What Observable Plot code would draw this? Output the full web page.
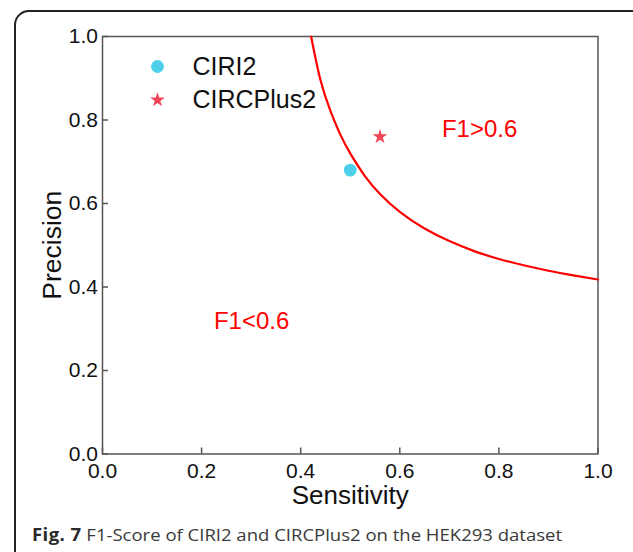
<!DOCTYPE html>
<html><head><meta charset="utf-8">
<script src="https://cdn.jsdelivr.net/npm/d3@7"></script>
<script src="https://cdn.jsdelivr.net/npm/@observablehq/plot@0.6"></script>
<style>
html,body{margin:0;padding:0;background:#fff;width:633px;height:552px;overflow:hidden;}
#wrap{position:relative;width:633px;height:552px;}
#border{position:absolute;left:14px;top:10px;width:700px;height:700px;border:2px solid #222;border-radius:15px;box-sizing:border-box;}
#chart{position:absolute;left:0;top:0;}
#caption{position:absolute;left:31.5px;top:526px;font-family:"Open Sans",sans-serif;font-size:17px;line-height:17px;color:#3a3a3a;white-space:nowrap;transform-origin:left center;}
#caption b{color:#2a2a2a;letter-spacing:0.4px;}
</style></head><body>
<div id="wrap"><div id="border"></div><div id="chart"></div><div id="caption"><b>Fig. 7</b> F1-Score of CIRI2 and CIRCPlus2 on the HEK293 dataset</div></div>
<script>
// Data
const methods = ["CIRI2", "CIRCPlus2"];
const sensitivity = [0.50, 0.56];
const precision = [0.68, 0.76];
const methodSymbols = ["circle", "star"];
const methodColors = ["#4ECFEA", "#F04457"];

// F1 boundary curve
const curveSensitivity = [0.421, 0.44, 0.46, 0.48, 0.50, 0.53, 0.56, 0.60, 0.65, 0.70, 0.75, 0.80, 0.85, 0.90, 0.95, 1.0];
const curvePrecision   = [1.0, 0.895, 0.822, 0.765, 0.720, 0.665, 0.623, 0.580, 0.540, 0.510, 0.486, 0.467, 0.452, 0.439, 0.428, 0.418];

const xTicks = [0, 0.2, 0.4, 0.6, 0.8, 1.0];
const yTicks = [0, 0.2, 0.4, 0.6, 0.8, 1.0];

const regionLabels = ["F1>0.6", "F1<0.6"];
const regionSensitivity = [0.761, 0.301];
const regionPrecision = [0.777, 0.319];

const xLabel = "Sensitivity";
const yLabel = "Precision";

// Tables built from the arrays
const points = methods.map((m, i) => ({method: m, s: sensitivity[i], p: precision[i]}));
const curve = curveSensitivity.map((s, i) => ({s, p: curvePrecision[i]}));
const regions = regionLabels.map((t, i) => ({t, s: regionSensitivity[i], p: regionPrecision[i]}));

const markerR = {circle: 6.4, star: 4.6};
const axisGray = "#555";
const tickFont = 21;

const chart = Plot.plot({
  width: 633, height: 515,
  marginLeft: 102, marginRight: 35.5, marginTop: 36, marginBottom: 61.5,
  style: {fontFamily: '"Liberation Sans", Arial, sans-serif', fontSize: "21px", color: "#111", background: "transparent", overflow: "visible"},
  x: {domain: [0, 1]},
  y: {domain: [0, 1]},
  symbol: {domain: methods, range: methodSymbols},
  color: {domain: methods, range: methodColors},
  marks: [
    Plot.frame({stroke: axisGray, strokeWidth: 1.5}),
    Plot.axisX({ticks: xTicks, tickFormat: d => d.toFixed(1), tickSize: -6, tickPadding: 15.1, stroke: axisGray, strokeWidth: 1.5, fill: "#111", fontSize: tickFont, label: null}),
    Plot.axisY({ticks: yTicks, tickFormat: d => d.toFixed(1), tickSize: -6, tickPadding: 10.5, stroke: axisGray, strokeWidth: 1.5, fill: "#111", fontSize: tickFont, label: null}),
    Plot.line(curve, {x: "s", y: "p", stroke: "#FF0000", strokeWidth: 2.2, curve: "natural"}),
    ...methods.map((m, i) => Plot.dot(points.filter(d => d.method === m), {x: "s", y: "p", symbol: "method", fill: "method", r: markerR[methodSymbols[i]], stroke: "none"})),
    Plot.text(regions, {x: "s", y: "p", text: "t", fill: "#FF0000", fontSize: 24}),
    // in-plot legend
    ...methods.map((m, i) => Plot.dot([m], {frameAnchor: "top-left", dx: 55, dy: 30 + i * 33.5, symbol: d => d, fill: d => d, r: markerR[methodSymbols[i]], stroke: "none"})),
    ...methods.map((m, i) => Plot.text([m], {frameAnchor: "top-left", dx: 90, dy: 30 + i * 33.5, text: d => d, textAnchor: "start", lineAnchor: "middle", fontSize: 25, fill: "#111"})),
    // axis titles
    Plot.text([xLabel], {frameAnchor: "bottom", dy: 50, text: d => d, textAnchor: "middle", lineAnchor: "bottom", fontSize: 26, fill: "#111"}),
    Plot.text([yLabel], {frameAnchor: "left", dx: -42, rotate: -90, text: d => d, textAnchor: "middle", lineAnchor: "bottom", fontSize: 26.5, fill: "#111"})
  ]
});
document.getElementById("chart").appendChild(chart);
chart.querySelectorAll('g[aria-label$="tick label"]').forEach(g => {
  g.setAttribute("font-size", tickFont);
  g.style.fontSize = tickFont + "px";
});

const cap = document.getElementById("caption");
const w = cap.getBoundingClientRect().width;
cap.style.transform = `scaleX(${530 / w})`;
</script>
</body></html>
